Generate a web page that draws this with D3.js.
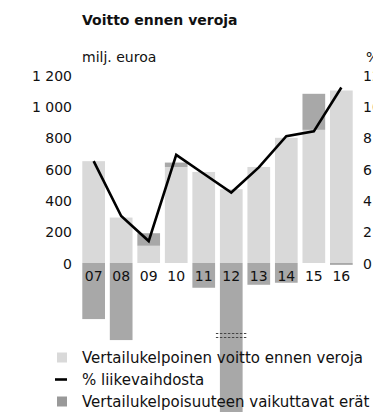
<!DOCTYPE html>
<html>
<head>
<meta charset="utf-8">
<script src="https://cdn.jsdelivr.net/npm/d3@7"></script>
<style>
  html, body { margin: 0; padding: 0; background: #fff; }
  svg { display: block; font-family: "DejaVu Sans", sans-serif; }
</style>
</head>
<body>
<svg id="chart" width="373" height="412"></svg>
<script>
// Pre-tax profit, million euros, 2007–2016
const years = ["07", "08", "09", "10", "11", "12", "13", "14", "15", "16"];
const comparableProfit = [650, 290, 110, 613, 581, 471, 613, 799, 850, 1101];
const itemsAffectingComparability = [-358, -492, 80, 28, -158, -1300, -139, -126, 230, -12];
const pctOfRevenue = [6.5, 3.0, 1.4, 6.9, 5.7, 4.5, 6.1, 8.1, 8.4, 11.2];
const leftTicks = [0, 200, 400, 600, 800, 1000, 1200];
const rightTicks = [0, 2, 4, 6, 8, 10, 12];
const legendLabels = [
  "Vertailukelpoinen voitto ennen veroja",
  "% liikevaihdosta",
  "Vertailukelpoisuuteen vaikuttavat erät"
];

const LIGHT = "#d9d9d9";
const DARK = "#a8a8a8";
const INK = "#111";

const svg = d3.select("#chart");

const x = d3.scaleBand().domain(years).range([82.3, 352.7]).paddingInner(0.175).paddingOuter(0);
const y = d3.scaleLinear().domain([0, 1200]).range([263, 75]);
const yPct = d3.scaleLinear().domain([0, 12]).range([263, 75]);

// Thousands separated by a space: "1 200"
const fmt = d => d3.format(",")(d).replace(/,/g, " ");

// Title and axis units
svg.append("text").attr("x", 82).attr("y", 25)
  .attr("font-weight", "bold").attr("font-size", 14).attr("fill", INK)
  .text("Voitto ennen veroja");
svg.append("text").attr("x", 82).attr("y", 62)
  .attr("font-size", 14).attr("fill", INK).text("milj. euroa");
svg.append("text").attr("x", 366).attr("y", 62)
  .attr("font-size", 14).attr("fill", INK).text("%");

// Left axis (labels only)
const leftAxis = d3.axisLeft(y).tickValues(leftTicks).tickSize(0).tickPadding(0).tickFormat(fmt);
const gl = svg.append("g").attr("transform", "translate(72,0)").call(leftAxis);
gl.select(".domain").remove();
gl.selectAll("text").attr("font-size", 14).attr("fill", INK)
  .attr("font-family", "DejaVu Sans, sans-serif").attr("dy", "0.36em");

// Right axis (labels only)
const rightAxis = d3.axisRight(yPct).tickValues(rightTicks).tickSize(0).tickPadding(0);
const gr = svg.append("g").attr("transform", "translate(363,0)").call(rightAxis);
gr.select(".domain").remove();
gr.selectAll("text").attr("font-size", 14).attr("fill", INK)
  .attr("font-family", "DejaVu Sans, sans-serif").attr("dy", "0.36em");

// Comparable profit bars
svg.append("g").selectAll("rect").data(years).join("rect")
  .attr("x", d => x(d)).attr("width", x.bandwidth())
  .attr("y", (d, i) => y(comparableProfit[i]))
  .attr("height", (d, i) => y(0) - y(comparableProfit[i]))
  .attr("fill", LIGHT);

// Items affecting comparability: positive ones stack above, negative ones hang below zero
svg.append("g").selectAll("rect").data(years).join("rect")
  .attr("x", d => x(d)).attr("width", x.bandwidth())
  .attr("y", (d, i) => {
    const v = itemsAffectingComparability[i];
    return v >= 0 ? y(comparableProfit[i] + v) : y(0);
  })
  .attr("height", (d, i) => Math.abs(y(0) - y(Math.abs(itemsAffectingComparability[i]))))
  .attr("fill", DARK);

// Axis break on the longest negative bar
const brk = years[5];
[333.5, 337.5].forEach(yy => {
  svg.append("line")
    .attr("x1", x(brk) - 4).attr("x2", x(brk) + x.bandwidth() + 4)
    .attr("y1", yy).attr("y2", yy)
    .attr("stroke", "#444").attr("stroke-width", 1.2)
    .attr("stroke-dasharray", "2.4,1.6");
});

// Year labels
svg.append("g").selectAll("text").data(years).join("text")
  .attr("x", d => x(d) + x.bandwidth() / 2).attr("y", 281)
  .attr("text-anchor", "middle").attr("font-size", 14).attr("fill", INK)
  .text(d => d);

// Percentage of revenue line
const line = d3.line()
  .x((d, i) => x(years[i]) + x.bandwidth() / 2)
  .y(d => yPct(d));
svg.append("path").datum(pctOfRevenue)
  .attr("d", line).attr("fill", "none")
  .attr("stroke", "#000").attr("stroke-width", 2.6)
  .attr("stroke-linejoin", "miter");

// Legend
const lg = svg.append("g");
const legendY = [362.5, 384.5, 406.5];
lg.append("rect").attr("x", 57).attr("y", legendY[0] - 10).attr("width", 10).attr("height", 10).attr("fill", LIGHT);
lg.append("line").attr("x1", 55).attr("x2", 67).attr("y1", legendY[1] - 5).attr("y2", legendY[1] - 5)
  .attr("stroke", "#000").attr("stroke-width", 2.6);
lg.append("rect").attr("x", 57).attr("y", legendY[2] - 10).attr("width", 10).attr("height", 10).attr("fill", "#999");
lg.selectAll("text").data(legendLabels).join("text")
  .attr("x", 82).attr("y", (d, i) => legendY[i])
  .attr("font-size", 15).attr("fill", INK).text(d => d);
</script>
</body>
</html>
